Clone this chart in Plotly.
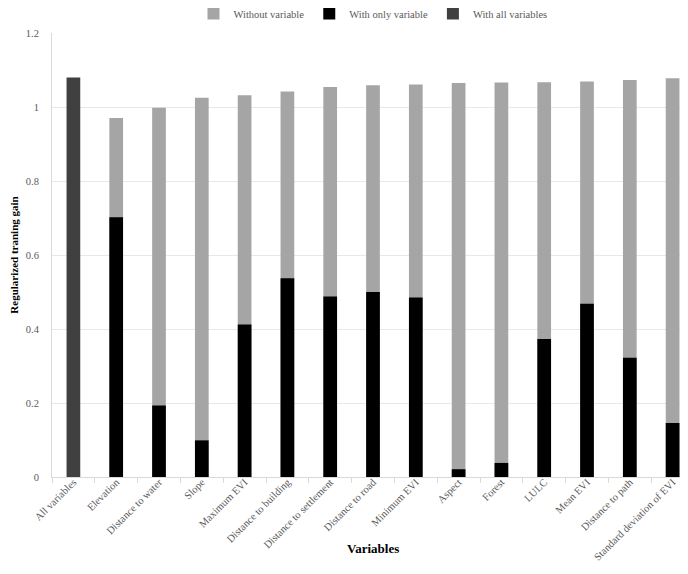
import plotly.graph_objects as go

categories = ["All variables", "Elevation", "Distance to water", "Slope", "Maximum EVI",
              "Distance to building", "Distance to settlement", "Distance to road", "Minimum EVI",
              "Aspect", "Forest", "LULC", "Mean EVI", "Distance to path", "Standard deviation of EVI"]
without_variable = [None, 0.970, 0.998, 1.025, 1.032, 1.042, 1.054, 1.059, 1.061,
                    1.065, 1.066, 1.067, 1.069, 1.073, 1.078]
with_only_variable = [None, 0.702, 0.193, 0.099, 0.412, 0.537, 0.488, 0.500, 0.485,
                      0.021, 0.038, 0.373, 0.468, 0.322, 0.146]
with_all_variables = [1.080] + [None] * 14
y_ticks = [0, 0.2, 0.4, 0.6, 0.8, 1.0, 1.2]
y_tick_labels = ["0", "0.2", "0.4", "0.6", "0.8", "1", "1.2"]

FONT = "Liberation Serif, Times New Roman, serif"
W = 0.32

fig = go.Figure()
fig.add_trace(go.Bar(x=categories, y=without_variable, name="Without variable",
                     marker=dict(color="#A5A5A5", line=dict(width=0)), width=W))
fig.add_trace(go.Bar(x=categories, y=with_only_variable, name="With only variable",
                     marker=dict(color="#000000", line=dict(width=0)), width=W))
fig.add_trace(go.Bar(x=categories, y=with_all_variables, name="With all variables",
                     marker=dict(color="#404040", line=dict(width=0)), width=W))

fig.update_layout(
    width=688, height=574,
    barmode="overlay",
    plot_bgcolor="white", paper_bgcolor="white",
    margin=dict(l=44, r=2, t=25, b=105, autoexpand=False),
    font=dict(family=FONT, size=10.5, color="#595959"),
    legend=dict(orientation="h", x=0.5, xanchor="center", y=1.044, yanchor="middle",
                yref="paper", font=dict(family=FONT, size=10.5, color="#595959"),
                itemwidth=30, traceorder="normal"),
    showlegend=True,
)
fig.update_xaxes(
    type="category", tickangle=-45, showgrid=False,
    showline=True, linecolor="#D9D9D9", linewidth=1,
    ticks="outside", tickson="boundaries", ticklen=5, tickcolor="#D9D9D9",
    ticklabelstandoff=-6,
    tickfont=dict(family=FONT, size=10.5, color="#595959"), automargin=False,
)
fig.update_yaxes(
    range=[0, 1.2], tickvals=y_ticks, ticktext=y_tick_labels,
    showgrid=True, gridcolor="#E8E8E8", gridwidth=1,
    showline=True, linecolor="#D9D9D9", zeroline=False,
    ticks="", ticklabelstandoff=10,
    tickfont=dict(family=FONT, size=10.5, color="#595959"),
    title=dict(text="<b>Regularized traning gain</b>", font=dict(family=FONT, size=11, color="#000000"), standoff=14),
    automargin=False,
)
fig.add_annotation(text="<b>Variables</b>", xref="paper", yref="paper", x=0.5, y=-0.16,
                   yanchor="middle", showarrow=False,
                   font=dict(family=FONT, size=13, color="#000000"))

fig.write_html("out.html")
